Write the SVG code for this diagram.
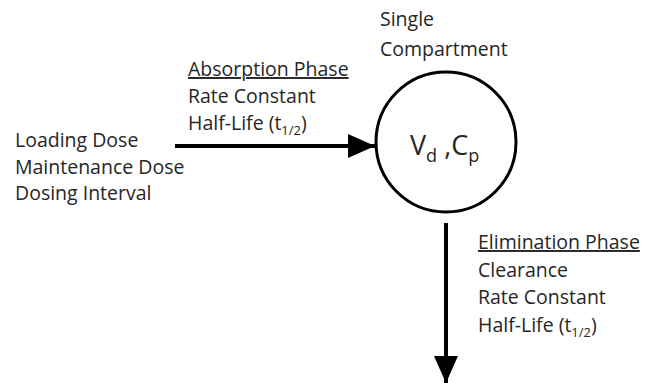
<svg xmlns="http://www.w3.org/2000/svg" width="658" height="383" viewBox="0 0 658 383">
<style>
text{font-family:"Open Sans","Liberation Sans",sans-serif;font-size:19.5px;fill:#262626}
.u{text-decoration:underline}
.sub{font-size:13px}
.big{font-size:27px}
.bigsub{font-size:18px}
.conn{stroke:#000;stroke-width:4;fill:none}
</style>
<defs>
<marker id="ah" markerUnits="userSpaceOnUse" markerWidth="27" markerHeight="24" refX="27" refY="12" orient="auto">
<path d="M0,0 L27,12 L0,24 Z" fill="#000"/>
</marker>
</defs>
<g id="connectors">
<line class="conn" x1="175" y1="146" x2="375" y2="146" marker-end="url(#ah)"/>
<line class="conn" x1="446" y1="223" x2="446" y2="383" marker-end="url(#ah)"/>
</g>
<g id="compartment">
<circle cx="446" cy="142" r="70" fill="#fff" stroke="#000" stroke-width="3"/>
<text x="380" y="26">Single</text>
<text x="380" y="56">Compartment</text>
<text class="big" x="410" y="155">V<tspan class="bigsub" dy="7">d</tspan><tspan dy="-7"> ,C</tspan><tspan class="bigsub" dy="7">p</tspan></text>
</g>
<g id="dosing">
<text x="15" y="147">Loading Dose</text>
<text x="15" y="174">Maintenance Dose</text>
<text x="15" y="200">Dosing Interval</text>
</g>
<g id="absorption">
<text class="u" x="188" y="76">Absorption Phase</text>
<text x="188" y="103">Rate Constant</text>
<text x="188" y="130">Half-Life (t<tspan class="sub" dy="5">1/2</tspan><tspan dy="-5">)</tspan></text>
</g>
<g id="elimination">
<text class="u" x="478" y="249">Elimination Phase</text>
<text x="478" y="277">Clearance</text>
<text x="478" y="304">Rate Constant</text>
<text x="478" y="332">Half-Life (t<tspan class="sub" dy="5">1/2</tspan><tspan dy="-5">)</tspan></text>
</g>
</svg>
